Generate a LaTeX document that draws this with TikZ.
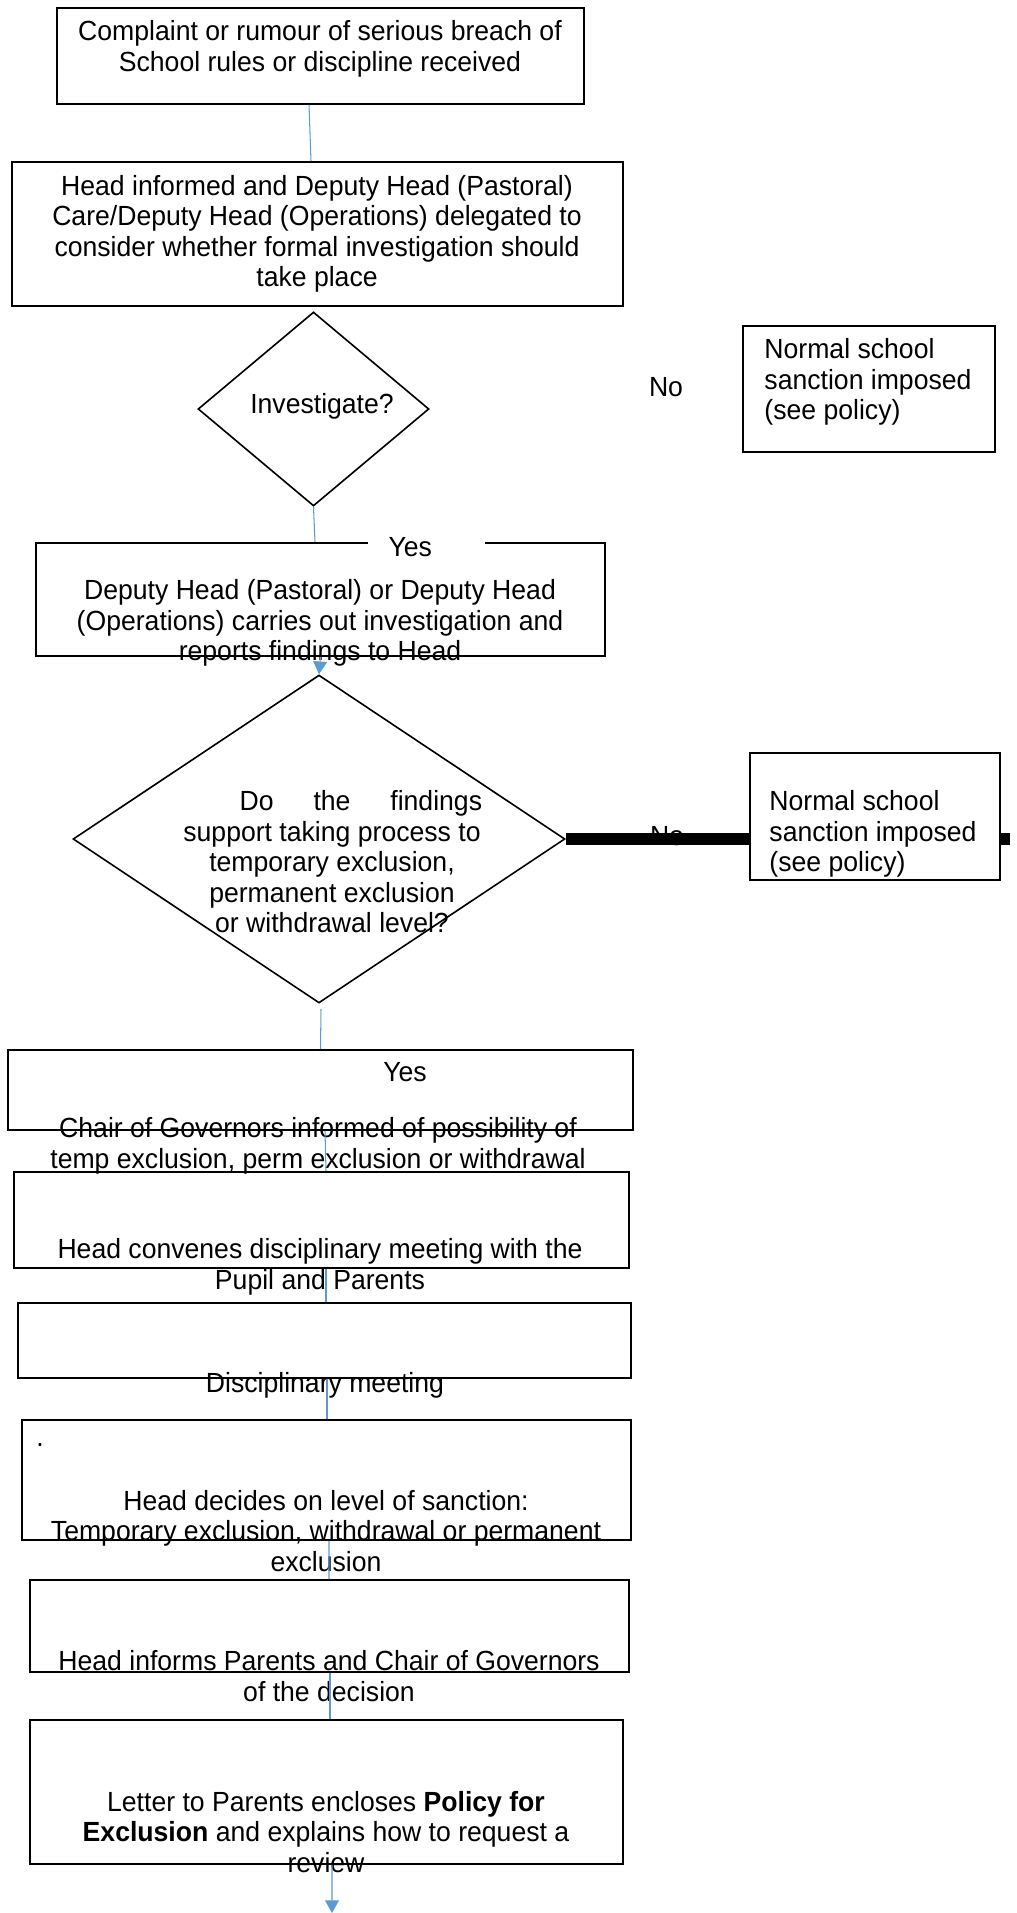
\documentclass[tikz,border=0pt]{standalone}
\usepackage{fontspec}
\setmainfont{Liberation Sans}[FakeStretch=0.96]
\usetikzlibrary{calc}
\usetikzlibrary{positioning}
\usetikzlibrary{arrows.meta, shapes.geometric, fit}
\definecolor{linkblue}{RGB}{91,155,213}

\begin{document}
\begin{tikzpicture}[x=0.433pt,y=0.433pt,yscale=-1,xscale=1,
    font=\fontsize{12}{13.2}\selectfont,
    box/.style={draw, line width=0.7pt, inner sep=0pt},
    decision/.style={diamond, draw, line width=0.7pt, inner sep=0pt},
    txt/.style={inner sep=0pt, align=center},
    conn/.style={draw=linkblue, line width=0.45pt},
    flow/.style={conn, -{Triangle[width=6pt,length=5.5pt]}}]
                  \useasboundingbox (0,0) rectangle (1017,1913);

                  %Shape: Rectangle
                  \node [box, fit={(57,8) (584,104)}] (b1) {};
                  % Text Node
                  \node [txt] (t1) at (320,49) {Complaint or rumour of serious breach of\\School rules or discipline received};

                  %Shape: Rectangle
                  \node [box, fit={(12,162) (623,306)}] (b2) {};
                  % Text Node
                  \node [txt] (t2) at (317,234) {Head informed and Deputy Head (Pastoral)\\Care/Deputy Head (Operations) delegated to\\consider whether formal investigation should\\take place};

                  %Shape: Diamond
                  \node [decision, minimum width=100pt, minimum height=84pt] (d1) at (313.5,409) {};
                  % Text Node
                  \node [txt] (t3) at (322,406) {Investigate?};
                  % Text Node
                  \node [txt] (no1) at (666,387) {No};

                  %Shape: Rectangle
                  \node [box, fit={(743,326) (995,452)}] (n1) {};
                  % Text Node
                  \node [txt, align=left, anchor=west] (t4) at (764,382) {Normal school\\sanction imposed\\(see policy)};

                  %Shape: Rectangle
                  \node [box, fit={(36,543) (605,656)}] (b3) {};
                  % Text Node
                  \node [txt, fill=white, anchor=west] (yes1) at (368,547) {\hspace*{8.7pt}Yes\hspace*{23pt}};
                  % Text Node
                  \node [txt] (t5) at (320,623) {Deputy Head (Pastoral) or Deputy Head\\(Operations) carries out investigation and\\reports findings to Head};

                  %Shape: Diamond
                  \node [decision, minimum width=213pt, minimum height=142pt] (d2) at (319,839) {};
                  % Text Node
                  \node [txt] (t6) at (332,862) {\makebox[130pt][s]{\hspace*{25pt}Do the findings}\\support taking process to\\temporary exclusion,\\permanent exclusion\\or withdrawal level?};

                  %Straight Lines
                  \coordinate (noend) at (1010,839);
                  \draw [line width=4.8pt] (d2.east) -- (noend);

                  %Shape: Rectangle
                  \node [box, fill=white, fit={(750,753) (1000,880)}] (n2) {};
                  % Text Node
                  \node [txt, align=left, anchor=west] (t7) at (769,834) {Normal school\\sanction imposed\\(see policy)};
                  % Text Node
                  \node [txt] (no2) at (667,836) {No};

                  %Shape: Rectangle
                  \node [box, fit={(8,1050) (633,1130)}] (b4) {};
                  % Text Node
                  \node [txt] (yes2) at (405,1072) {Yes};
                  % Text Node
                  \node [txt] (t8) at (318,1146) {Chair of Governors informed of possibility of\\temp exclusion, perm exclusion or withdrawal};

                  %Shape: Rectangle
                  \node [box, fit={(14,1172) (629,1268)}] (b5) {};
                  % Text Node
                  \node [txt] (t9) at (320,1267) {Head convenes disciplinary meeting with the\\Pupil and Parents};

                  %Shape: Rectangle
                  \node [box, fit={(18,1303) (631,1378)}] (b6) {};
                  % Text Node
                  \node [txt] (t10) at (325,1385) {Disciplinary meeting};

                  %Shape: Rectangle
                  \node [box, fit={(22,1420) (631,1540)}] (b7) {};
                  % Text Node
                  \node [txt] (dot) at (40,1445) {.};
                  % Text Node
                  \node [txt] (t11) at (326,1531) {Head decides on level of sanction:\\Temporary exclusion, withdrawal or permanent\\exclusion};

                  %Shape: Rectangle
                  \node [box, fit={(30,1580) (629,1672)}] (b8) {};
                  % Text Node
                  \node [txt] (t12) at (329,1676) {Head informs Parents and Chair of Governors\\of the decision};

                  %Shape: Rectangle
                  \node [box, fit={(30,1720) (623,1864)}] (b9) {};
                  % Text Node
                  \node [txt] (t13) at (326,1832) {Letter to Parents encloses \textbf{Policy for}\\\textbf{Exclusion} and explains how to request a\\review};
                  \coordinate (end) at (332,1913);

                  %Connectors
                  \draw [conn] ($(b1.south)+(-11.5,0)$) -- ($(b2.north)+(-6.5,0)$);
                  \draw [conn] (d1.south) -- ($(b3.north)+(-5.5,0)$);
                  \draw [flow] (b3.south) -- (d2.north);
                  \draw [conn] ($(d2.south)+(2,5)$) -- (b4.north);
                  \draw [conn] ($(b4.south)+(4.5,0)$) -- ($(b5.north)+(4.5,0)$);
                  \draw [conn] ($(b5.south)+(4.5,0)$) -- ($(b6.north)+(1.5,0)$);
                  \draw [conn] ($(b6.south)+(2.5,0)$) -- ($(b7.north)+(0.5,0)$);
                  \draw [conn] ($(b7.south)+(2.5,0)$) -- ($(b8.north)+(-0.5,0)$);
                  \draw [conn] ($(b8.south)+(0.5,0)$) -- ($(b9.north)+(3.5,0)$);
                  \draw [flow] ($(b9.south)+(5.5,0)$) -- (end);

              \end{tikzpicture}
\end{document}
